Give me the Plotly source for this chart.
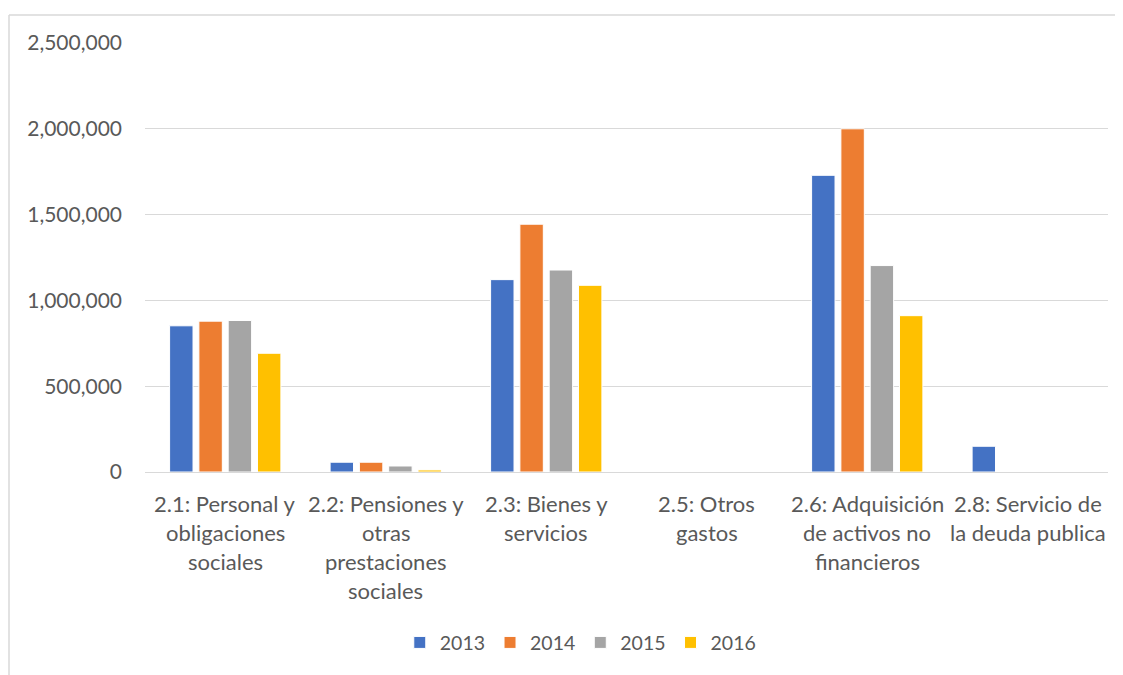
import plotly.graph_objects as go

categories = [
    "2.1: Personal y obligaciones sociales",
    "2.2: Pensiones y otras prestaciones sociales",
    "2.3: Bienes y servicios",
    "2.5: Otros gastos",
    "2.6: Adquisición de activos no financieros",
    "2.8: Servicio de la deuda publica",
]
label_lines = [
    ["2.1: Personal y", "obligaciones", "sociales"],
    ["2.2: Pensiones y", "otras", "prestaciones", "sociales"],
    ["2.3: Bienes y", "servicios"],
    ["2.5: Otros", "gastos"],
    ["2.6: Adquisición", "de activos no", "financieros"],
    ["2.8: Servicio de", "la deuda publica"],
]
years = ["2013", "2014", "2015", "2016"]
v2013 = [852000, 57000, 1121000, 0, 1729000, 150000]
v2014 = [879000, 57000, 1444000, 0, 2000000, 0]
v2015 = [883000, 35000, 1177000, 0, 1203000, 0]
v2016 = [692000, 12000, 1088000, 0, 911000, 0]
series = [v2013, v2014, v2015, v2016]
colors = ["#4472C4", "#ED7D31", "#A5A5A5", "#FFC000"]

FONT = "Lato"
TXT = "#595959"

fig = go.Figure()
for y, vals, c in zip(years, series, colors):
    fig.add_trace(go.Bar(
        x=categories, y=vals, name=y,
        marker=dict(color=c, line=dict(color="white", width=1)),
    ))

# page body has an 8px margin, so the figure is offset by 8px
OFF = 8
W, H = 1123 - OFF, 675 - OFF
L, R, T = 145 - OFF, 15, 43 - OFF
pw, ph = 963, 429
B = H - T - ph

annotations = []
for cat, lines in zip(categories, label_lines):
    for i, line in enumerate(lines):
        annotations.append(dict(
            x=cat, xref="x", y=0, yref="paper", yanchor="middle",
            yshift=-(31 + 29 * i), text=line, showarrow=False,
            font=dict(family=FONT, size=22, color=TXT),
        ))

fx, fy = 9 - OFF, 15 - OFF  # frame left/top in figure pixels
fig.update_layout(
    width=W, height=H,
    margin=dict(l=L, r=R, t=T, b=B),
    paper_bgcolor="white", plot_bgcolor="white",
    barmode="group", bargap=0.27, bargroupgap=0.2,
    font=dict(family=FONT, size=18, color=TXT),
    legend=dict(orientation="h", x=0.452, xanchor="center", y=-0.398, yanchor="middle",
                font=dict(family=FONT, size=19.5, color=TXT), itemwidth=30,
                traceorder="normal"),
    annotations=annotations,
    shapes=[
        dict(type="line", xref="paper", yref="paper",
             x0=(fx - L) / pw, x1=(W + 10 - L) / pw,
             y0=(T + ph - fy) / ph, y1=(T + ph - fy) / ph,
             line=dict(color="#d9d9d9", width=1.5)),
        dict(type="line", xref="paper", yref="paper",
             x0=(fx - L) / pw, x1=(fx - L) / pw,
             y0=(T + ph - fy) / ph, y1=(T + ph - H - 10) / ph,
             line=dict(color="#d9d9d9", width=1.5)),
    ],
)
fig.update_xaxes(showticklabels=False, showgrid=False, showline=True,
                 linecolor="#d9d9d9", linewidth=1, ticks="")
fig.update_yaxes(range=[0, 2500000], dtick=500000, tickformat=",",
                 showgrid=True, gridcolor="#d9d9d9", gridwidth=1,
                 zeroline=False, showline=False, ticks="",
                 ticklabelstandoff=22,
                 tickfont=dict(family=FONT, size=21, color=TXT))

fig.write_html("out.html")
